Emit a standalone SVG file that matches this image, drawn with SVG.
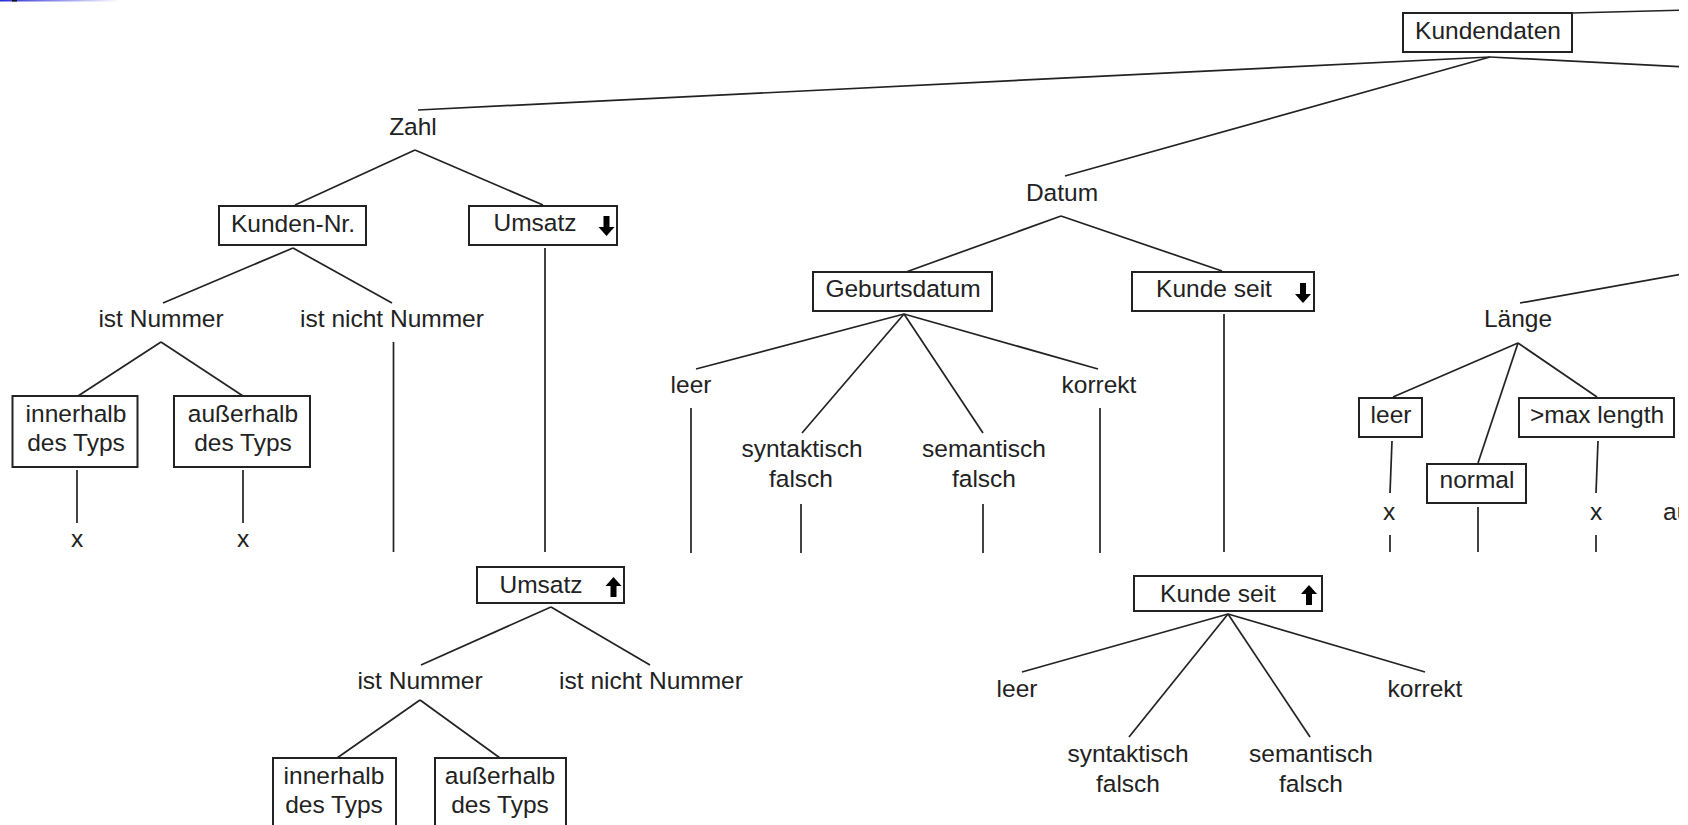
<svg xmlns="http://www.w3.org/2000/svg" width="1688" height="825" viewBox="0 0 1688 825">
<style>
.t{font-family:"Liberation Sans",Arial,sans-serif;font-size:24.5px;fill:#222;text-anchor:middle}
.b{fill:#fff;stroke:#222;stroke-width:2}
.c line{stroke:#222;stroke-width:1.7;stroke-linecap:butt}
.a{fill:#000}
</style>
<defs>
<linearGradient id="g" x1="0" x2="1" y1="0" y2="0"><stop offset="0" stop-color="#2b2bd6"/><stop offset="1" stop-color="#fff"/></linearGradient>
<clipPath id="cp"><rect x="0" y="0" width="1679" height="825"/></clipPath>
<path id="down" d="M-3,0 H3 V11 H8 L0,20 L-8,11 H-3 Z"/>
<path id="up" d="M-3,20 H3 V9 H8 L0,0 L-8,9 H-3 Z"/>
</defs>
<rect width="1688" height="825" fill="#fff"/>
<rect x="0" y="0" width="120" height="1.5" fill="url(#g)"/>
<rect x="12" y="0" width="5" height="1.5" fill="#111"/>
<g clip-path="url(#cp)">
<g class="c" id="connectors">
<line x1="1572" y1="13" x2="1688" y2="10"/>
<line x1="1490" y1="57" x2="418" y2="110"/>
<line x1="1490" y1="57" x2="1065" y2="176"/>
<line x1="1490" y1="57" x2="1688" y2="67"/>
<line x1="1520" y1="303" x2="1688" y2="273"/>
<line x1="415" y1="150" x2="295" y2="205"/>
<line x1="415" y1="150" x2="543" y2="205"/>
<line x1="293" y1="248" x2="163" y2="303"/>
<line x1="293" y1="248" x2="392" y2="303"/>
<line x1="545" y1="248" x2="545" y2="552"/>
<line x1="161" y1="342" x2="78" y2="396"/>
<line x1="161" y1="342" x2="243" y2="396"/>
<line x1="77" y1="470" x2="77" y2="523"/>
<line x1="243" y1="470" x2="243" y2="523"/>
<line x1="393.5" y1="342" x2="393.5" y2="552"/>
<line x1="1061" y1="216" x2="906" y2="272"/>
<line x1="1061" y1="216" x2="1222" y2="271"/>
<line x1="904" y1="314" x2="696" y2="369"/>
<line x1="904" y1="314" x2="802" y2="433"/>
<line x1="904" y1="314" x2="983" y2="433"/>
<line x1="904" y1="314" x2="1098" y2="369"/>
<line x1="691" y1="408" x2="691" y2="553"/>
<line x1="801" y1="504" x2="801" y2="553"/>
<line x1="983" y1="504" x2="983" y2="553"/>
<line x1="1100" y1="408" x2="1100" y2="553"/>
<line x1="1224" y1="314" x2="1224" y2="552"/>
<line x1="1518" y1="343" x2="1393" y2="397"/>
<line x1="1518" y1="343" x2="1478" y2="463"/>
<line x1="1518" y1="343" x2="1597" y2="397"/>
<line x1="1392" y1="441" x2="1390" y2="493"/>
<line x1="1390" y1="535" x2="1390" y2="552"/>
<line x1="1478" y1="507" x2="1478" y2="552"/>
<line x1="1598" y1="441" x2="1596" y2="493"/>
<line x1="1596" y1="535" x2="1596" y2="552"/>
<line x1="551" y1="607" x2="421" y2="665"/>
<line x1="551" y1="607" x2="650" y2="665"/>
<line x1="420" y1="700" x2="337" y2="758"/>
<line x1="420" y1="700" x2="500" y2="758"/>
<line x1="1228" y1="614" x2="1022" y2="672"/>
<line x1="1228" y1="614" x2="1129" y2="737"/>
<line x1="1228" y1="614" x2="1310" y2="737"/>
<line x1="1228" y1="614" x2="1425" y2="672"/>
</g>
<g id="kundendaten"><rect class="b" x="1403" y="13" width="169" height="39"/><text class="t" x="1488" y="39">Kundendaten</text></g>
<g id="zahl"><text class="t" x="413" y="135">Zahl</text></g>
<g id="kunden-nr"><rect class="b" x="219" y="206" width="147" height="39"/><text class="t" x="293" y="232">Kunden-Nr.</text></g>
<g id="umsatz-down"><rect class="b" x="469" y="206" width="148" height="39"/><text class="t" x="535" y="231">Umsatz</text><use href="#down" class="a" x="606.5" y="216"/></g>
<g id="ist-nummer-1"><text class="t" x="161" y="327">ist Nummer</text></g>
<g id="ist-nicht-nummer-1"><text class="t" x="392" y="327">ist nicht Nummer</text></g>
<g id="innerhalb-1"><rect class="b" x="12.5" y="396" width="125" height="71"/><text class="t" x="76" y="422">innerhalb</text><text class="t" x="76" y="451">des Typs</text></g>
<g id="ausserhalb-1"><rect class="b" x="174" y="396" width="136" height="71"/><text class="t" x="243" y="422">außerhalb</text><text class="t" x="243" y="451">des Typs</text></g>
<g id="x-1"><text class="t" x="77" y="547">x</text></g>
<g id="x-2"><text class="t" x="243" y="547">x</text></g>
<g id="datum"><text class="t" x="1062" y="201">Datum</text></g>
<g id="geburtsdatum"><rect class="b" x="813" y="272" width="179" height="39"/><text class="t" x="903" y="297">Geburtsdatum</text></g>
<g id="kunde-seit-down"><rect class="b" x="1132" y="272" width="182" height="39"/><text class="t" x="1214" y="297">Kunde seit</text><use href="#down" class="a" x="1303" y="283"/></g>
<g id="leer-1"><text class="t" x="691" y="393">leer</text></g>
<g id="syntaktisch-1"><text class="t" x="802" y="457">syntaktisch</text><text class="t" x="801" y="487">falsch</text></g>
<g id="semantisch-1"><text class="t" x="984" y="457">semantisch</text><text class="t" x="984" y="487">falsch</text></g>
<g id="korrekt-1"><text class="t" x="1099" y="393">korrekt</text></g>
<g id="laenge"><text class="t" x="1518" y="327">Länge</text></g>
<g id="leer-box"><rect class="b" x="1359" y="398" width="63" height="39"/><text class="t" x="1391" y="423">leer</text></g>
<g id="normal"><rect class="b" x="1427" y="464" width="99" height="39"/><text class="t" x="1477" y="488">normal</text></g>
<g id="max-length"><rect class="b" x="1519" y="398" width="155" height="39"/><text class="t" x="1597" y="423">&gt;max length</text></g>
<g id="x-3"><text class="t" x="1389" y="520">x</text></g>
<g id="x-4"><text class="t" x="1596" y="520">x</text></g>
<g id="au"><text class="t" x="1663" y="520" style="text-anchor:start">au</text></g>
<g id="umsatz-up"><rect class="b" x="477" y="567" width="147" height="36"/><text class="t" x="541" y="593">Umsatz</text><use href="#up" class="a" x="613.5" y="577"/></g>
<g id="ist-nummer-2"><text class="t" x="420" y="689">ist Nummer</text></g>
<g id="ist-nicht-nummer-2"><text class="t" x="651" y="689">ist nicht Nummer</text></g>
<g id="innerhalb-2"><rect class="b" x="273" y="758" width="123" height="71"/><text class="t" x="334" y="784">innerhalb</text><text class="t" x="334" y="813">des Typs</text></g>
<g id="ausserhalb-2"><rect class="b" x="435" y="758" width="131" height="71"/><text class="t" x="500" y="784">außerhalb</text><text class="t" x="500" y="813">des Typs</text></g>
<g id="kunde-seit-up"><rect class="b" x="1134" y="576" width="188" height="35"/><text class="t" x="1218" y="602">Kunde seit</text><use href="#up" class="a" x="1309" y="585"/></g>
<g id="leer-2"><text class="t" x="1017" y="697">leer</text></g>
<g id="syntaktisch-2"><text class="t" x="1128" y="762">syntaktisch</text><text class="t" x="1128" y="792">falsch</text></g>
<g id="semantisch-2"><text class="t" x="1311" y="762">semantisch</text><text class="t" x="1311" y="792">falsch</text></g>
<g id="korrekt-2"><text class="t" x="1425" y="697">korrekt</text></g>
</g>
</svg>
